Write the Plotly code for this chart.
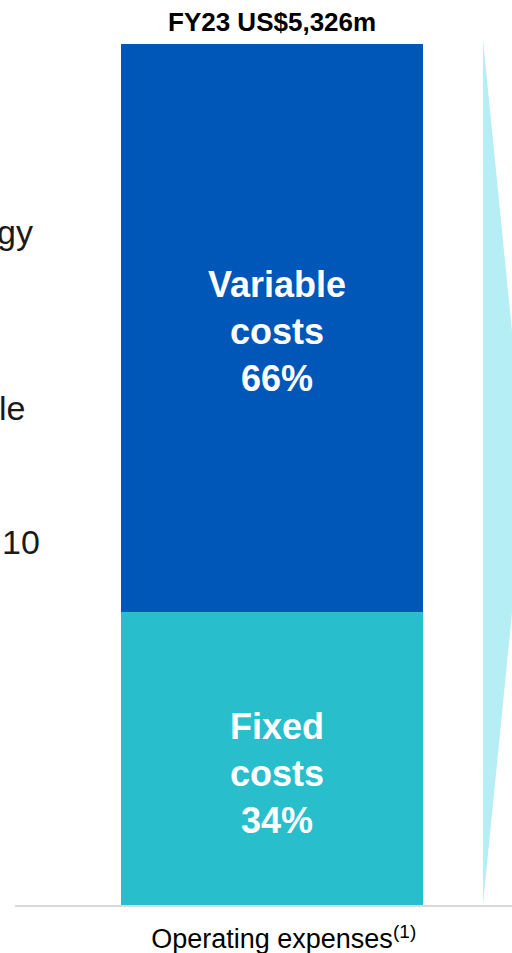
import plotly.graph_objects as go

# Operating expenses split, FY23
category = ["Operating expenses"]
footnote = "(1)"
segments = ["Fixed", "Variable"]
shares = [34, 66]  # % of total operating expenses
segment_colors = ["#29BECB", "#0057B8"]
label_shift = [-15, -3]  # vertical nudge of each segment label, px
total_label = "FY23 US$5,326m"

# Text fragments of the neighbouring column
side_texts = ["gy", "le", "10"]

W, H = 512, 953
FONT = "Arial, Liberation Sans, sans-serif"

fig = go.Figure()
base = 0
for name, share, color, shift in zip(segments, shares, segment_colors, label_shift):
    fig.add_trace(go.Bar(
        x=[0],
        y=[share],
        name=name,
        width=1,
        marker=dict(color=color, line=dict(width=0)),
        hoverinfo="skip",
    ))
    fig.add_annotation(
        x=0, y=base + share / 2, xref="x", yref="y",
        text=f"<b>{name}<br>costs<br>{share}%</b>", showarrow=False,
        xshift=5, yshift=shift,
        font=dict(family=FONT, size=36, color="white"),
    )
    base += share

total = sum(shares)
ax_left, ax_bottom = 15, 905          # plot area edges in px
bar_left, bar_right, bar_top = 121, 423, 44
unit = bar_right - bar_left            # px per x unit (bar width = 1)
x0 = -((bar_left + bar_right) / 2 - ax_left) / unit
x1 = x0 + (W - ax_left) / unit
y_max = total * ax_bottom / (ax_bottom - bar_top)

fig.update_layout(
    width=W, height=H,
    margin=dict(l=0, r=0, t=0, b=0),
    paper_bgcolor="white", plot_bgcolor="white",
    barmode="stack",
    showlegend=False,
    font=dict(family=FONT, color="#000000"),
    xaxis=dict(
        domain=[ax_left / W, 1],
        range=[x0, x1],
        tickvals=[0], ticktext=category,
        tickfont=dict(family=FONT, size=27, color="#000000"),
        ticks="", ticklabelstandoff=9,
        showline=True, linecolor="#D9D9D9", linewidth=1.5,
        showgrid=False, zeroline=False, fixedrange=True,
    ),
    yaxis=dict(
        domain=[(H - ax_bottom) / H, 1],
        range=[0, y_max],
        visible=False, fixedrange=True,
    ),
)

# Footnote marker after the category label
fig.add_annotation(
    x=391 / W, y=1 - 931 / H, xref="paper", yref="paper",
    text=footnote, showarrow=False, xanchor="left", yanchor="middle",
    font=dict(family=FONT, size=19, color="#000000"),
)

# Total above the bar
fig.add_annotation(
    x=0, y=total, xref="x", yref="y",
    text=f"<b>{total_label}</b>", showarrow=False,
    yanchor="bottom", yshift=5,
    font=dict(family=FONT, size=26, color="#000000"),
)

# Light connector wedge on the right
def px(x, y):
    return f"{x / W:.4f},{1 - y / H:.4f}"

fig.add_shape(
    type="path", xref="paper", yref="paper",
    path=f"M {px(483, 40)} L {px(526, 472)} L {px(483, 904)} Z",
    fillcolor="#B6EEF5", line=dict(width=0), layer="below",
)

# Cut-off text of the neighbouring column
for txt, x_end, y_mid in zip(side_texts, [35, 27, 42], [232, 408, 542]):
    fig.add_annotation(
        x=x_end / W, y=1 - y_mid / H, xref="paper", yref="paper",
        text=txt, showarrow=False, xanchor="right", yanchor="middle",
        font=dict(family=FONT, size=34, color="#1A1A1A"),
    )

fig.write_html("out.html")
